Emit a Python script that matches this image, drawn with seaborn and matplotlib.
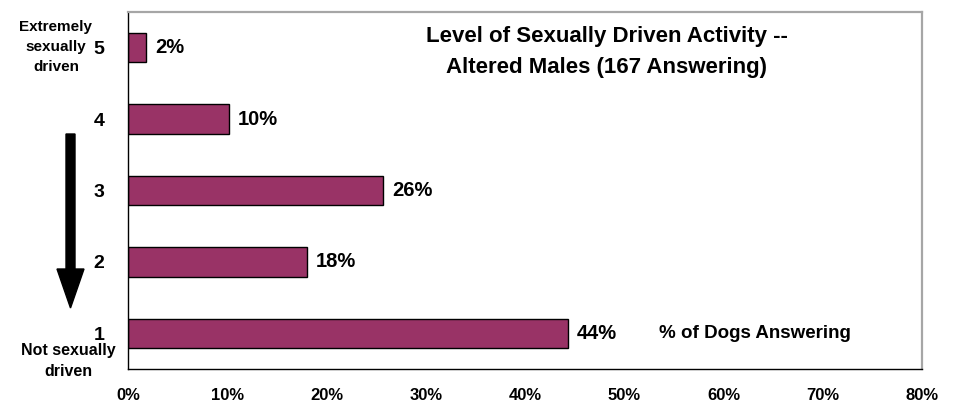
import matplotlib
matplotlib.use('Agg')
import matplotlib.pyplot as plt
from matplotlib.patches import FancyArrow
from matplotlib.ticker import FixedLocator, PercentFormatter
import seaborn as sns
import pandas as pd

# --- data ---
levels = ['5', '4', '3', '2', '1']
pct_dogs = [1.8, 10.2, 25.7, 18.0, 44.3]
bar_labels = ['2%', '10%', '26%', '18%', '44%']
x_ticks = [0, 10, 20, 30, 40, 50, 60, 70, 80]

title = 'Level of Sexually Driven Activity --\nAltered Males (167 Answering)'
top_note = 'Extremely\nsexually\ndriven'
bottom_note = 'Not sexually\ndriven'
axis_note = '% of Dogs Answering'

sns.set_style('white')
plt.rcParams['font.family'] = ['Liberation Sans', 'DejaVu Sans']
plt.rcParams['font.weight'] = 'bold'
plt.rcParams['text.color'] = 'black'
plt.rcParams['xtick.color'] = 'black'
plt.rcParams['ytick.color'] = 'black'

df = pd.DataFrame({'level': levels, 'pct': pct_dogs})

fig = plt.figure(figsize=(9.56, 4.03), dpi=100)
ax = fig.add_axes([128 / 956, 34 / 403, 794 / 956, 357 / 403])

sns.barplot(data=df, x='pct', y='level', order=levels, orient='h',
            color='#993366', saturation=1, width=0.41,
            edgecolor='black', linewidth=1, ax=ax)

# value labels next to each bar
for bar, lab in zip(ax.patches, bar_labels):
    ax.text(bar.get_width() + 0.9, bar.get_y() + bar.get_height() / 2, lab,
            va='center', ha='left', fontsize=14.5, fontweight='bold')

ax.set_xlim(0, 80)
ax.set_ylim(4.5, -0.5)
ax.xaxis.set_major_locator(FixedLocator(x_ticks))
ax.xaxis.set_major_formatter(PercentFormatter(decimals=0))
ax.tick_params(axis='x', direction='out', length=5, width=1,
               labelsize=12, pad=9)

# category labels centred, tick marks between categories
ax.set_yticks(range(len(levels)))
ax.set_yticks([i - 0.5 for i in range(len(levels) + 1)], minor=True)
ax.tick_params(axis='y', which='major', length=0, labelsize=14, pad=17)
ax.tick_params(axis='y', which='minor', length=6, width=1, direction='out')
for t in ax.get_yticklabels() + ax.get_xticklabels():
    t.set_fontweight('bold')

ax.set_xlabel('')
ax.set_ylabel('')

for side in ['left', 'bottom']:
    ax.spines[side].set_color('black')
    ax.spines[side].set_linewidth(1)
for side in ['top', 'right']:
    ax.spines[side].set_color('#a6a6a6')
    ax.spines[side].set_linewidth(1.6)

fig.text(607 / 956, 1 - 52 / 403, title, ha='center', va='center',
         fontsize=16, fontweight='bold', linespacing=1.6)
fig.text(56 / 956, 1 - 47 / 403, top_note, ha='center', va='center',
         fontsize=11, fontweight='bold', linespacing=1.55)
fig.text(68 / 956, 1 - 361 / 403, bottom_note, ha='center', va='center',
         fontsize=11.5, fontweight='bold', linespacing=1.45)
ax.text((659 - 128) / 794, 0.1, axis_note, transform=ax.transAxes,
        ha='left', va='center', fontsize=13.5, fontweight='bold')

# big downward arrow on the left
arrow = FancyArrow(70.5 / 956, 1 - 134 / 403, 0, -(308 - 134) / 403,
                   width=9 / 956, head_width=27 / 956, head_length=39 / 403,
                   length_includes_head=True, color='black',
                   transform=fig.transFigure)
fig.patches.append(arrow)

fig.savefig('out.png', dpi=100)
